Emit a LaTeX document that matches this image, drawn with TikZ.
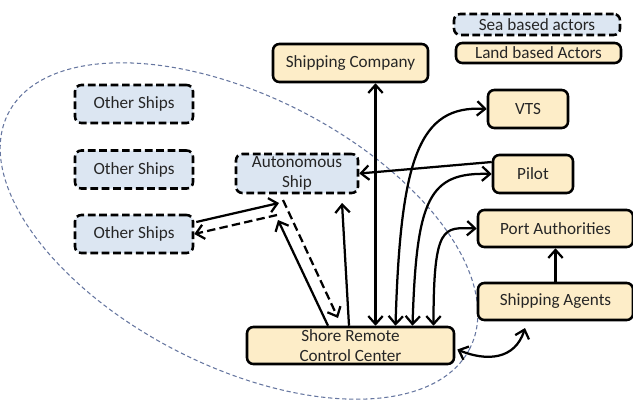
\documentclass[tikz,border=0pt]{standalone}
\usepackage{fontspec}
\setmainfont{Carlito}
\usetikzlibrary{arrows.meta, calc}
\usepackage{xcolor}

\definecolor{seafill}{HTML}{DCE6F2}
\definecolor{landfill}{HTML}{FDEDC8}
\definecolor{zoneline}{HTML}{6676A0}

\tikzset{
    actor/.style={draw, line width=1.8pt, rounded corners=4.5pt, inner sep=0pt, align=center,
        font=\fontsize{12.2}{14.4}\selectfont, text=black!85},
    sea/.style={actor, fill=seafill, dash pattern=on 5.5pt off 2.6pt},
    land/.style={actor, fill=landfill},
    link/.style={line width=1.6pt, {Straight Barb[length=2mm,width=3.6mm]}-{Straight Barb[length=2mm,width=3.6mm]}},
    oneway/.style={line width=1.6pt, -{Straight Barb[length=2mm,width=3.6mm]}},
    dashline/.style={dash pattern=on 6pt off 3pt},
    zone/.style={zoneline, line width=0.75pt, dash pattern=on 3pt off 2pt}
}

\begin{document}
\begin{tikzpicture}[x=0.25mm, y=-0.25mm]
    \useasboundingbox (0,0) rectangle (633,400);

    % Area of the ship
    \draw[zone, rotate around={-27:(239,231)}] (239,231) ellipse [x radius=259, y radius=135];

    % Legend
    \node[sea, minimum width=41.5mm, minimum height=5.25mm] (seakey) at (537,24.5) {Sea based actors};
    \node[land, minimum width=41.25mm, minimum height=5mm] (landkey) at (538.5,53) {Land based Actors};

    % Sea based actors
    \node[sea, minimum width=29.5mm, minimum height=9.5mm] (os1) at (134,104) {Other Ships};
    \node[sea, minimum width=29.5mm, minimum height=9.5mm] (os2) at (134,169.5) {Other Ships};
    \node[sea, minimum width=29.5mm, minimum height=9.5mm] (os3) at (134,234) {Other Ships};
    \node[sea, minimum width=30.5mm, minimum height=9.75mm] (auto) at (297,173.5) {Autonomous\\Ship};

    % Land based actors
    \node[land, minimum width=38.75mm, minimum height=9.5mm] (comp) at (350.5,63) {Shipping Company};
    \node[land, minimum width=20mm, minimum height=9.5mm] (vts) at (528,109) {VTS};
    \node[land, minimum width=20mm, minimum height=9.5mm] (pilot) at (533,174) {Pilot};
    \node[land, minimum width=38.75mm, minimum height=9.25mm] (port) at (555.5,228.5) {Port Authorities};
    \node[land, minimum width=38.75mm, minimum height=9.25mm] (agents) at (555.5,301.5) {Shipping Agents};
    \node[land, minimum width=51.75mm, minimum height=9.25mm] (shore) at (350.5,345.5) {Shore Remote\\Control Center};

    % Free ends below the ship
    \coordinate (osIn) at (279,203);
    \coordinate (osOut) at (277,215);
    \coordinate (shIn) at (278,220);
    \coordinate (shOut) at (283,200);
    \coordinate (shDash) at (338,318);
    \coordinate (autoIn) at (342,203);
    \coordinate (agentsIn) at (525,328);

    % Links of the shore centre
    \draw[link] ($(comp.south)+(25,0)$) -- ($(shore.north)+(25,0)$);
    \draw[link] ($(shore.north)+(45,0)$) .. controls +(5,-167) and +(-68,-4) .. (vts.west);
    \draw[link] ($(shore.north)+(62,0)$) .. controls +(4,-127) and +(-63,-2) .. (pilot.west);
    \draw[link] ($(shore.north)+(83,0)$) .. controls +(0,-102) and +(-33,-1) .. (port.west);
    \draw[link] ($(shore.east)+(2,4)$) .. controls +(29,12) and +(-10,32) .. (agentsIn);
    \draw[oneway] ($(shore.north)+(-1.5,0)$) -- (autoIn);
    \draw[oneway] ($(shore.north)+(-22.5,0)$) -- (shIn);
    \draw[oneway, dashline] (shOut) -- (shDash);

    % Other ships, pilot and agents
    \draw[oneway] ($(os3.east)+(2,-12)$) -- (osIn);
    \draw[oneway, dashline] (osOut) -- (os3.east);
    \draw[oneway] ($(pilot.west)+(0,-12)$) -- (auto.east);
    \draw[oneway] (agents) -- (port);
\end{tikzpicture}
\end{document}
